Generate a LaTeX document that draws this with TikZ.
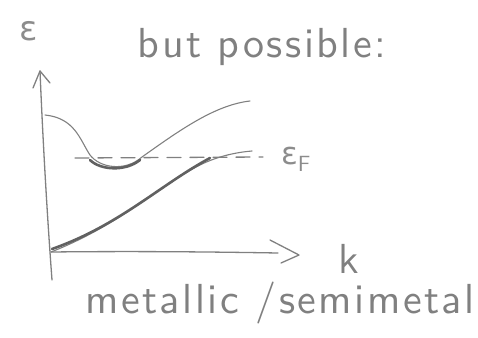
\documentclass[tikz,border=0pt]{standalone}
\usepackage{fontspec}
\newfontfamily\handfont[LetterSpace=6]{lmsans10-regular.otf}
\newfontfamily\greekfont{DejaVu Sans}
\usetikzlibrary{arrows.meta}
\begin{document}
\begin{tikzpicture}[x=1pt,y=-1pt,
  pencil/.style={draw=black!50, line width=1.3pt, line cap=round, line join=round},
  heavy/.style={draw=black!62, line width=2.6pt, line cap=round},
  hand/.style={text=black!50, font=\handfont\fontsize{42}{44}\selectfont, inner sep=0pt}]
\useasboundingbox (0,0) rectangle (478,337);
% axes
\coordinate (origin) at (51,252);
\coordinate (ytop) at (40,71);
\coordinate (ybot) at (52,280);
\coordinate (xend) at (299,255);
\draw[pencil] (ybot) .. controls (46,200) and (42,120) .. (ytop);
\draw[pencil] (33,88) -- (ytop) -- (50,83);
\draw[pencil] (origin) .. controls (140,251) and (220,252) .. (278,253);
\draw[pencil] (270,240) -- (xend) -- (281,263);
% labels
\node[hand, text=black!45, font=\greekfont\fontsize{34}{36}\selectfont] (eps) at (29,31) {ε};
\node[hand, anchor=base] (title) at (262,57) {but possible:};
\node[hand, anchor=base] (k) at (349,273) {k};
\node[hand, text=black!45, anchor=base west, font=\greekfont\fontsize{31}{33}\selectfont] (ef) at (281,164) {ε\raisebox{-7pt}{\handfont\fontsize{22}{24}\selectfont F}};
\node[hand, anchor=base] (cap) at (280,313) {metallic /semimetal};
% upper band
\draw[pencil, line width=1.1pt] (45,115) .. controls (75,118) and (80,140) .. (90,155)
  .. controls (100,168) and (125,172) .. (142,157)
  .. controls (180,130) and (215,105) .. (250,101);
\draw[heavy] (90,160) .. controls (100,170) and (125,172) .. (140,160);
% Fermi level
\coordinate (fend) at (263,157);
\draw[pencil, dash pattern=on 14pt off 9pt] (75,158) -- (fend);
% lower band
\draw[pencil, line width=1.1pt] (origin) .. controls (120,225) and (160,185) .. (200,165)
  .. controls (220,155) and (240,152) .. (252,151);
\draw[heavy] (52,249) .. controls (120,225) and (160,185) .. (210,158);
\end{tikzpicture}
\end{document}
